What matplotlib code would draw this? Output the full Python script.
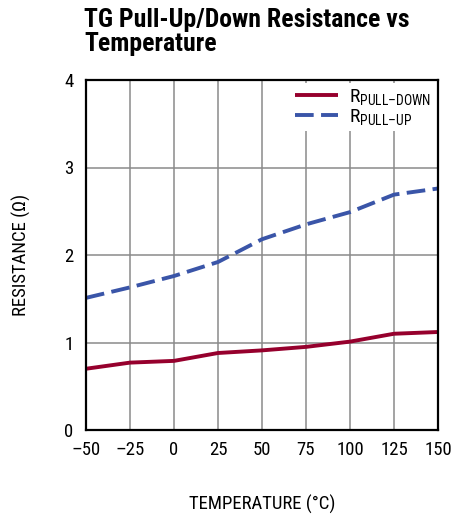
import matplotlib
matplotlib.use("Agg")
import matplotlib.pyplot as plt
from matplotlib import font_manager

temps = [-50, -25, 0, 25, 50, 75, 100, 125, 150]
r_pull_down = [0.70, 0.77, 0.79, 0.88, 0.91, 0.95, 1.01, 1.10, 1.12]
r_pull_up = [1.51, 1.63, 1.76, 1.92, 2.18, 2.35, 2.49, 2.69, 2.76]
x_ticks = [-50, -25, 0, 25, 50, 75, 100, 125, 150]
y_ticks = [0, 1, 2, 3, 4]

names = sorted({f.name for f in font_manager.fontManager.ttflist})
fam = 'Roboto'
for cand in ['Liberation Sans Narrow', 'Roboto Condensed', 'Open Sans Condensed', 'Roboto']:
    if cand in names:
        fam = cand
        break
plt.rcParams['font.family'] = [fam, 'DejaVu Sans']
plt.rcParams['mathtext.fontset'] = 'custom'
plt.rcParams['mathtext.rm'] = fam
plt.rcParams['mathtext.it'] = fam

fig = plt.figure(figsize=(4.52, 5.14), dpi=100)
ax = fig.add_axes([86/452, 84/514, 352/452, 350/514])

ax.plot(temps, r_pull_down, color='#96002d', lw=2.8, label=r'R$_{\rm PULL–DOWN}$', solid_capstyle='butt')
ax.plot(temps, r_pull_up, color='#3a55a8', lw=2.8, dashes=(4.8, 1.9), label=r'R$_{\rm PULL–UP}$')

ax.set_xlim(-50, 150)
ax.set_ylim(0, 4)
ax.set_xticks(x_ticks)
ax.set_yticks(y_ticks)
ax.set_xticklabels([str(t).replace('-', '\u2013') for t in x_ticks])
ax.grid(True, color='#8a8a8a', lw=1.1)
ax.set_axisbelow(True)
ax.tick_params(axis='x', length=0, labelsize=13.5, pad=8)
ax.tick_params(axis='y', length=0, labelsize=13.5, pad=9)
for s in ax.spines.values():
    s.set_linewidth(1.6)
    s.set_color('black')

ax.set_xlabel('TEMPERATURE (°C)', fontsize=13.5, labelpad=26)
ax.set_ylabel('RESISTANCE (Ω)', fontsize=13.5, labelpad=24)

leg = ax.legend(loc='upper right', fontsize=14, frameon=True, fancybox=False,
                edgecolor='none', facecolor='white', framealpha=1,
                handlelength=2.2, handletextpad=0.55, borderpad=0.2,
                labelspacing=0.0, borderaxespad=0.15)

fig.text(84/452, 1 - 8/514, 'TG Pull-Up/Down Resistance vs\nTemperature',
         fontsize=18.5, fontweight='bold', ha='left', va='top', linespacing=1.0)

fig.savefig('out.png', dpi=100)
